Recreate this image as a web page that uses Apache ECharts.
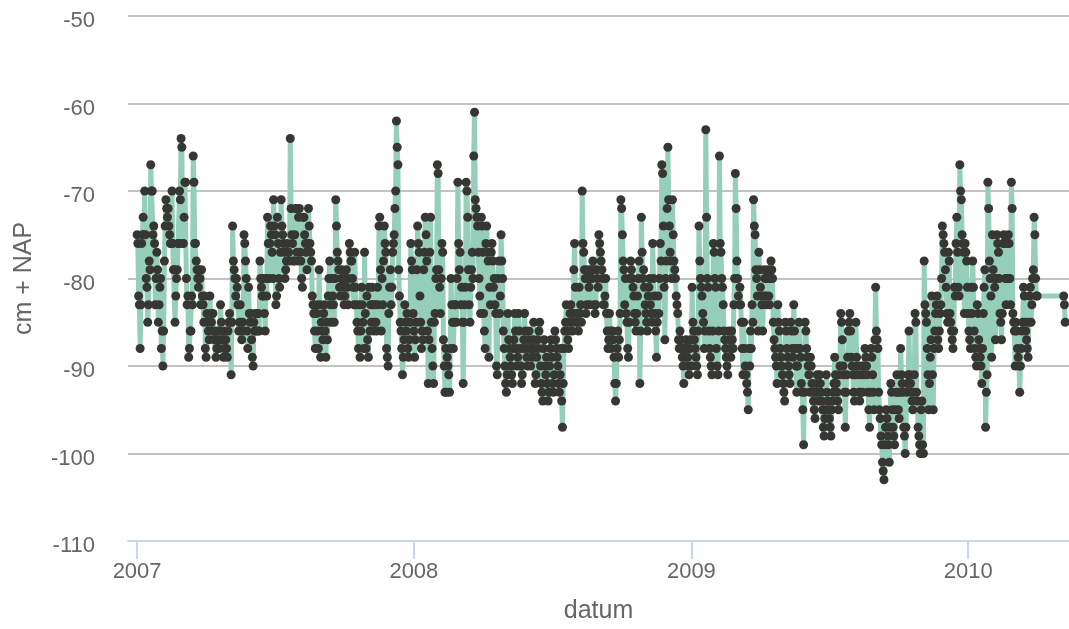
<!DOCTYPE html>
<html>
<head>
<meta charset="utf-8">
<title>Grondwaterstand</title>
<script src="https://cdn.jsdelivr.net/npm/echarts@6/dist/echarts.min.js"></script>
<style>
  html, body { margin: 0; padding: 0; background: #ffffff; }
  #chart { width: 1069px; height: 629px; }
</style>
</head>
<body>
<div id="chart"></div>
<script>
// Daily readings starting on the first date; null = no reading that day.
const firstDate = [2007, 0, 1];
const stepDays = 1;

// Levels in cm + NAP, rows of 20 days.
const readingsA = [
  -75,-76,-82,-83,-88,-83,-76,-75,-73,-75,-70,-75,-80,-81,-85,-83,-78,-79,-67,-70,
  -70,-75,-74,-76,-83,-80,-77,-79,-85,-83,-81,-80,-88,-86,-90,-86,-78,-74,-71,-72,
  -73,-72,-74,-75,-76,-76,-70,-76,-79,-79,-85,-82,-80,-79,-76,-76,-70,-71,-64,-65,
  -76,-76,-73,-69,-69,-80,-83,-82,-89,-88,-86,-86,-82,-83,-66,-69,-76,-76,-78,-79,
  -80,-81,-79,-80,-83,-79,-82,-83,-85,-82,-88,-89,-84,-85,-86,-87,-82,-84,-85,-86,
  -84,-86,-87,-87,-89,-88,-86,-87,-88,-86,-83,-85,-87,-87,-89,-88,-86,-87,-88,-89,
  -86,-85,-84,-85,-91,-85,-74,-78,-79,-80,-82,-80,-81,-83,-86,-85,-83,-85,-87,-85,
  -86,-75,-76,-78,-80,-86,-88,-81,-84,-85,-84,-87,-89,-90,-85,-86,-84,-86,-84,-86,
  -84,-86,-78,-80,-81,-82,-80,-82,-84,-86,-80,-82,-73,-76,-80,-76,-74,-75,-77,-80,
  -71,-74,-75,-83,-82,-73,-76,-80,-81,-77,-71,-74,-75,-76,-77,-80,-79,-78,-76,-77,
  -77,-78,-64,-72,-75,-76,-78,-78,-75,-72,-72,-77,-78,-73,-72,-77,-78,-80,-81,-73,
  -73,-75,-76,-77,-79,-76,-72,-74,-76,-77,-78,-82,-83,-84,-86,-88,-83,-84,-86,-88,
  -79,-83,-89,-85,-86,-87,-84,-83,-86,-89,-85,-87,-82,-80,-78,-83,-85,-80,-82,-83,
  -85,-80,-71,-74,-77,-78,-79,-81,-82,-80,-79,-80,-81,-83,-82,-80,-79,-81,-83,-80,
  -76,-77,-78,-78,-80,-81,-83,-77,-81,-83,-85,-86,-88,-83,-89,-86,-81,-83,-85,-88
];
const readingsB = [
  -77,-84,-88,-82,-87,-89,-81,-86,-83,-85,-81,-83,-86,-85,-83,-85,-86,-81,-83,-74,
  -73,-79,-86,-80,-83,-78,-74,-76,-77,-88,-89,-90,-84,-81,-79,-83,-81,-77,-76,-75,
  -72,-70,-62,-65,-67,-79,-82,-85,-86,-88,-91,-89,-87,-83,-85,-86,-84,-88,-89,-87,
  -85,-76,-78,-79,-84,-86,-89,-87,-85,-79,-74,-76,-77,-82,-85,-88,-86,-87,-79,-77,
  -73,-75,-78,-86,-92,-87,-77,-73,-85,-88,-90,-92,-85,-84,-80,-79,-67,-68,-79,-81,
  -84,-80,-76,-77,-87,-90,-93,-88,-93,-89,-90,-91,-93,-88,-80,-83,-85,-88,-85,-83,
  -83,-85,-80,-69,-76,-79,-77,-83,-81,-85,-92,-85,-83,-81,-69,-70,-73,-79,-83,-85,
  -81,-79,-77,-80,-66,-61,-71,-72,-73,-74,-77,-80,-82,-84,-73,-74,-77,-84,-86,-88,
  -76,-74,-77,-78,-89,-81,-83,-77,-76,-78,-81,-80,-83,-84,-90,-91,-80,-78,-84,-82,
  -75,-78,-80,-86,-88,-90,-92,-93,-91,-84,-87,-88,-89,-90,-91,-92,-88,-87,-84,-86,
  -88,-90,-89,-84,-86,-88,-90,-92,-91,-88,-87,-84,-86,-88,-89,-90,-87,-86,-88,-90,
  -88,-89,-87,-85,-88,-92,-91,-89,-87,-88,-86,-85,-90,-92,-93,-94,-88,-87,-90,-91,
  -89,-92,-94,-93,-90,-88,-87,-89,-92,-93,-91,-86,-87,-88,-89,-90,-92,-93,-91,-88,
  -94,-97,-92,-88,-86,-85,-83,-86,-87,-88,-85,-84,-83,-85,-86,-84,-79,-76,-81,-85,
  -84,-85,-86,-81,-84,-83,-85,-70,-76,-77,-79,-80,-84,-83,-80,-79,-81,-83,-80,-79
];
const readingsC = [
  -80,-78,-79,-83,-84,-83,-79,-80,-81,-75,-76,-77,-78,-79,-80,-83,-83,-82,-80,-84,
  -86,-88,-87,-84,-86,-88,-87,-86,-87,-89,-92,-94,-92,-88,-86,-89,-87,-84,-71,-72,
  -75,-78,-79,-83,-80,-84,-85,-88,-89,-85,-80,-78,-79,-80,-81,-82,-84,-85,-86,-84,
  -82,-80,-78,-92,-86,-73,-77,-80,-79,-81,-83,-84,-85,-86,-82,-81,-80,-83,-84,-85,
  -76,-80,-82,-84,-86,-89,-85,-82,-84,-80,-76,-78,-67,-68,-74,-81,-87,-80,-78,-72,
  -65,-71,-74,-77,-78,-80,-71,-75,-78,-79,-80,-82,-83,-84,-87,-88,-86,-87,-88,-89,
  -90,-92,-88,-89,-87,-88,-89,-90,-91,-88,-87,-90,-81,-85,-86,-87,-88,-89,-90,-91,
  -86,-74,-78,-80,-81,-82,-84,-85,-88,-86,-63,-73,-80,-81,-86,-88,-89,-90,-91,-86,
  -76,-77,-80,-81,-88,-90,-91,-86,-66,-76,-77,-80,-81,-83,-86,-87,-88,-89,-90,-91,
  -86,-87,-88,-89,-86,-87,-88,-83,-80,-68,-72,-78,-80,-82,-83,-81,-83,-85,-88,-91,
  -85,-88,-90,-91,-92,-93,-95,-88,-90,-86,-88,-83,-85,-71,-74,-75,-79,-80,-82,-86,
  -77,-79,-81,-82,-83,-86,-82,-79,-80,-82,-83,-80,-79,-82,-83,-80,-78,-79,-80,-85,
  -87,-88,-89,-90,-92,-83,-85,-86,-88,-89,-90,-91,-92,-93,-94,-85,-86,-88,-89,-90,
  -91,-92,-85,-86,-88,-89,-83,-86,-88,-90,-93,-90,-88,-85,-88,-89,-92,-93,-95,-99,
  -93,-85,-86,-88,-89,-90,-91,-93,-89,-90,-92,-93,-94,-95,-96,-93,-92,-91,-93,-94,
  -91,-92,-93,-94,-95,-97,-98,-96,-95,-91,-93,-94,-95,-96,-97,-98,-95,-94,-93,-92
];
const readingsD = [
  -89,-91,-92,-93,-94,-95,-91,-90,-84,-85,-87,-90,-91,-93,-97,-93,-91,-89,-86,-85,
  -84,-86,-89,-90,-91,-93,-94,-91,-85,-89,-90,-91,-93,-94,-93,-90,-91,-93,-90,-91,
  -88,-89,-90,-91,-93,-95,-97,-93,-88,-89,-91,-93,-95,-87,-81,-86,-87,-88,-93,-95,
  -96,-98,-99,-101,-102,-103,-99,-97,-95,-96,-98,-99,-101,-97,-92,-93,-95,-97,-98,-99,
  -95,-93,-91,-93,-95,-96,-93,-88,-91,-92,-93,-97,-98,-100,-97,-93,-92,-91,-86,-91,
  -92,-93,-94,-95,-93,-91,-84,-85,-93,-94,-97,-98,-99,-100,-95,-94,-99,-100,-78,-83,
  -84,-85,-88,-91,-95,-92,-89,-87,-82,-91,-95,-88,-86,-84,-83,-82,-87,-88,-86,-84,
  -83,-80,-74,-75,-76,-77,-79,-81,-84,-85,-77,-78,-84,-85,-86,-87,-88,-86,-81,-82,
  -76,-73,-77,-81,-82,-67,-70,-71,-75,-76,-77,-84,-76,-77,-78,-81,-84,-86,-87,-88,
  -81,-84,-78,-81,-86,-88,-89,-90,-83,-84,-87,-88,-89,-90,-92,-88,-84,-81,-79,-97,
  -93,-91,-69,-72,-78,-80,-82,-89,-75,-79,-80,-81,-87,-80,-75,-76,-77,-80,-84,-85,
  -87,-84,-76,-75,-76,-80,-83,-80,-76,-75,-76,-80,-83,-69,-72,-84,-85,-86,-90,-85,
  -86,-88,-89,-90,-93,-90,-88,-86,-85,-81,-82,-85,-86,-87,-88,-89,-85,-82,-81,-85,
  -83,-80,-79,-73,-75,-80,-82,-82,null,null,null,null,null,null,null,null,null,null,null,null,
  null,null,null,null,null,null,null,null,null,null,null,null,null,null,null,null,null,null,null,null,
  null,null,-82,-83,-85
];

// Axis range and ticks
const axisStart = [2006, 11, 20];
const axisEnd = [2010, 4, 14];
const yMin = -110, yMax = -50, yStep = 10;

const levels = [].concat(readingsA, readingsB, readingsC, readingsD);
const dayMs = 24 * 3600 * 1000;
const t0 = new Date(firstDate[0], firstDate[1], firstDate[2]).getTime();
const seriesData = levels.map((v, i) => [t0 + i * stepDays * dayMs, v]);

const textColor = '#666666';
const fontFamily = '"Liberation Sans", Arial, Helvetica, sans-serif';

const chart = echarts.init(document.getElementById('chart'), null, { renderer: 'canvas' });
chart.setOption({
  animation: false,
  backgroundColor: '#ffffff',
  grid: { left: 128, right: 0, top: 16, bottom: 83, containLabel: false },
  xAxis: {
    type: 'time',
    min: new Date(axisStart[0], axisStart[1], axisStart[2]).getTime(),
    max: new Date(axisEnd[0], axisEnd[1], axisEnd[2]).getTime(),
    splitNumber: 3,
    minInterval: 360 * dayMs,
    name: 'datum',
    nameLocation: 'middle',
    nameGap: 58,
    nameTextStyle: { color: textColor, fontSize: 25, fontFamily: fontFamily },
    axisLine: { lineStyle: { color: '#ccd6eb', width: 2 } },
    axisTick: { length: 18, lineStyle: { color: '#ccd6eb', width: 2 } },
    axisLabel: {
      color: textColor, fontSize: 22, fontFamily: fontFamily, margin: 20,
      showMinLabel: false, showMaxLabel: false,
      formatter: function (val) {
        const d = new Date(val);
        return (d.getMonth() === 0 && d.getDate() === 1) ? String(d.getFullYear()) : '';
      }
    },
    splitLine: { show: false }
  },
  yAxis: {
    type: 'value',
    min: yMin, max: yMax, interval: yStep,
    name: 'cm + NAP',
    nameLocation: 'middle',
    nameGap: 91,
    nameTextStyle: { color: textColor, fontSize: 25, fontFamily: fontFamily },
    axisLine: { show: false },
    axisTick: { show: false },
    axisLabel: {
      color: textColor, fontSize: 22, fontFamily: fontFamily, margin: 33,
      verticalAlign: 'top', lineHeight: 10
    },
    splitLine: { lineStyle: { color: '#b1aeab', width: 1.5 } }
  },
  series: [{
    type: 'line',
    data: seriesData,
    connectNulls: true,
    showSymbol: true,
    showAllSymbol: true,
    symbol: 'circle',
    symbolSize: 9,
    itemStyle: { color: '#363632', borderWidth: 0 },
    lineStyle: { color: '#95cfbb', width: 5 },
    emphasis: { disabled: true }
  }]
});
</script>
</body>
</html>
